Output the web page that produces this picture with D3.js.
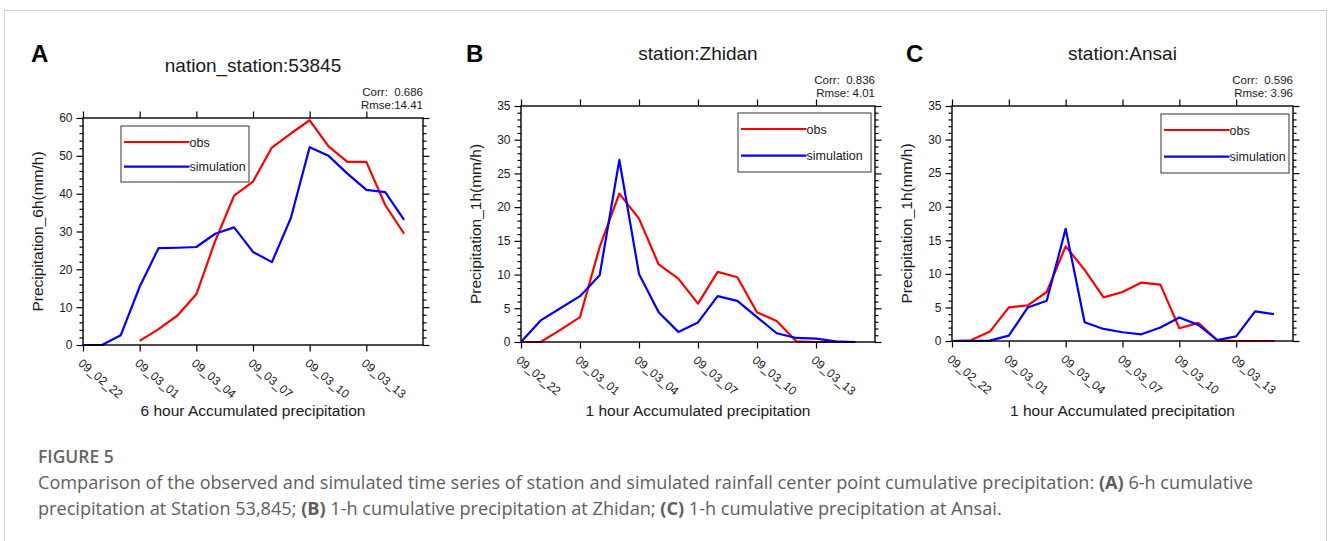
<!DOCTYPE html>
<html>
<head>
<meta charset="utf-8">
<script src="https://cdn.jsdelivr.net/npm/d3@7"></script>
<style>
  body { margin: 0; background: #fff; }
  svg text { font-family: "Liberation Sans", Arial, Helvetica, sans-serif; fill: #1a1a1a; }
  svg text.cap { font-family: "Open Sans", "Noto Sans", sans-serif; fill: #5e5e5e; }
  .pre { white-space: pre; }
</style>
</head>
<body>
<svg id="fig" width="1328" height="541"></svg>
<script>
// hours from 09_02_22, one value per hour
var tickHours = [0, 3, 6, 9, 12, 15];
var tickLabels = ["09_02_22", "09_03_01", "09_03_04", "09_03_07", "09_03_10", "09_03_13"];
var seriesNames = ["obs", "simulation"];

// panel A : 6h accumulated, station 53845
var obsA = [null, null, null, 1.1, 4.2, 7.8, 13.4, 27.5, 39.5, 43.2, 52.2, 55.9, 59.4, 52.5, 48.4, 48.4, 37, 29.4];
var simA = [0, 0, 2.6, 15.4, 25.6, 25.7, 25.9, 29.4, 31.1, 24.6, 21.9, 33.5, 52.3, 50, 45.3, 41, 40.4, 33.1];
// panel B : 1h accumulated, Zhidan
var obsB = [0, 0, 1.8, 3.7, 14.1, 22, 18.3, 11.5, 9.4, 5.7, 10.4, 9.6, 4.4, 3.1, 0.1, 0, 0, 0];
var simB = [0, 3.2, 5.0, 6.8, 9.9, 27, 10.1, 4.4, 1.5, 2.9, 6.8, 6.1, 3.7, 1.3, 0.6, 0.5, 0.1, 0];
// panel C : 1h accumulated, Ansai
var obsC = [0, 0.1, 1.4, 5.0, 5.3, 7.3, 14.1, 10.6, 6.5, 7.3, 8.7, 8.4, 1.9, 2.7, 0.1, 0, 0, 0];
var simC = [0, 0, 0.05, 0.8, 5.0, 6.0, 16.7, 2.8, 1.8, 1.3, 1.0, 2.0, 3.5, 2.4, 0.15, 0.7, 4.4, 4.0];

var panels = [
  {letter: "A", title: "nation_station:53845", corr: "Corr:  0.686", rmse: "Rmse:14.41",
   ylab: "Precipitation_6h(mm/h)", xlab: "6 hour Accumulated precipitation",
   obs: obsA, sim: simA, yMax: 60, yStep: 10, yMinor: 2,
   left: 83, right: 423, top: 118, bottom: 345, letterX: 31,
   legend: {x: 121, y: 126, w: 128, h: 56}},
  {letter: "B", title: "station:Zhidan", corr: "Corr:  0.836", rmse: "Rmse: 4.01",
   ylab: "Precipitation_1h(mm/h)", xlab: "1 hour Accumulated precipitation",
   obs: obsB, sim: simB, yMax: 35, yStep: 5, yMinor: 1,
   left: 521, right: 875, top: 106, bottom: 342, letterX: 466,
   legend: {x: 738, y: 113, w: 133, h: 59}},
  {letter: "C", title: "station:Ansai", corr: "Corr:  0.596", rmse: "Rmse: 3.96",
   ylab: "Precipitation_1h(mm/h)", xlab: "1 hour Accumulated precipitation",
   obs: obsC, sim: simC, yMax: 35, yStep: 5, yMinor: 1,
   left: 952, right: 1293, top: 106, bottom: 341, letterX: 906,
   legend: {x: 1161, y: 114, w: 128, h: 59}}
];

var colors = {obs: "#ff0000", simulation: "#0000ff"};

var svg = d3.select("#fig");

// outer frame of the figure
svg.append("rect")
  .attr("x", 4.5).attr("y", 10.5)
  .attr("width", 1322).attr("height", 600)
  .attr("fill", "none").attr("stroke", "#cfcfcf").attr("stroke-width", 1);

function drawPanel(p) {
  var g = svg.append("g");
  var x = d3.scaleLinear().domain([0, 18]).range([p.left, p.right]);
  var y = d3.scaleLinear().domain([0, p.yMax]).range([p.bottom, p.top]);
  var majors = d3.range(0, p.yMax + 0.001, p.yStep);
  var minors = d3.range(0, p.yMax + 0.001, p.yMinor).filter(function(v) { return v % p.yStep != 0; });

  // minor y ticks, left and right
  g.append("g").attr("transform", "translate(" + p.left + ",0)")
    .call(d3.axisLeft(y).tickValues(minors).tickSize(3.5).tickSizeOuter(0).tickFormat(""));
  g.append("g").attr("transform", "translate(" + p.right + ",0)")
    .call(d3.axisRight(y).tickValues(minors).tickSize(3.5).tickSizeOuter(0).tickFormat(""));

  // major y ticks
  var yl = g.append("g").attr("class", "yaxis").attr("transform", "translate(" + p.left + ",0)")
    .call(d3.axisLeft(y).tickValues(majors).tickSize(6.5).tickSizeOuter(0).tickPadding(4));
  yl.selectAll("text").style("font-size", "12px");
  g.append("g").attr("transform", "translate(" + p.right + ",0)")
    .call(d3.axisRight(y).tickValues(majors).tickSize(6.5).tickSizeOuter(0).tickFormat(""));

  // x ticks, top and bottom
  g.append("g").attr("transform", "translate(0," + p.top + ")")
    .call(d3.axisTop(x).tickValues(tickHours).tickSize(6.5).tickSizeOuter(0).tickFormat(""));
  var xl = g.append("g").attr("transform", "translate(0," + p.bottom + ")")
    .call(d3.axisBottom(x).tickValues(tickHours).tickSize(6.5).tickSizeOuter(0)
      .tickFormat(function(d, i) { return tickLabels[i]; }));
  xl.selectAll("text")
    .attr("x", 0).attr("y", 0).attr("dy", 0)
    .attr("text-anchor", "start")
    .attr("transform", "translate(-6,19.5) rotate(40)")
    .style("font-size", "12px");

  g.selectAll(".domain").remove();
  g.selectAll(".tick line").attr("stroke", "#000").attr("stroke-width", 1.2);

  // data lines
  var line = d3.line()
    .defined(function(d) { return d != null; })
    .x(function(d, i) { return x(i); })
    .y(function(d) { return y(d); });

  var clipId = "clip" + p.letter;
  g.append("clipPath").attr("id", clipId).append("rect")
    .attr("x", p.left).attr("y", p.top - 2)
    .attr("width", p.right - p.left).attr("height", p.bottom - p.top + 4);

  [["obs", p.obs], ["simulation", p.sim]].forEach(function(s) {
    g.append("path")
      .datum(s[1])
      .attr("clip-path", "url(#" + clipId + ")")
      .attr("fill", "none")
      .attr("stroke", colors[s[0]])
      .attr("stroke-width", 2.2)
      .attr("stroke-linejoin", "round")
      .attr("d", line);
  });

  // frame
  g.append("rect")
    .attr("x", p.left).attr("y", p.top)
    .attr("width", p.right - p.left).attr("height", p.bottom - p.top)
    .attr("fill", "none").attr("stroke", "#000").attr("stroke-width", 1.4);

  // legend
  var lg = g.append("g");
  lg.append("rect")
    .attr("x", p.legend.x).attr("y", p.legend.y)
    .attr("width", p.legend.w).attr("height", p.legend.h)
    .attr("fill", "#fff").attr("stroke", "#333").attr("stroke-width", 1);
  seriesNames.forEach(function(name, i) {
    var ly = i == 0 ? p.legend.y + 16 : p.legend.y + p.legend.h * 0.724;
    lg.append("line")
      .attr("x1", p.legend.x + 3).attr("x2", p.legend.x + 68.5)
      .attr("y1", ly).attr("y2", ly)
      .attr("stroke", colors[name]).attr("stroke-width", 2.2);
    lg.append("text")
      .attr("x", p.legend.x + 68.5).attr("y", ly + 4.5)
      .style("font-size", "12.5px")
      .text(name);
  });

  // titles and labels
  g.append("text")
    .attr("x", (p.left + p.right) / 2).attr("y", p.top - 46.5)
    .attr("text-anchor", "middle").style("font-size", "19px")
    .text(p.title);
  g.append("text").attr("class", "pre")
    .attr("x", p.right).attr("y", p.top - 22)
    .attr("text-anchor", "end").style("font-size", "11.5px")
    .text(p.corr);
  g.append("text").attr("class", "pre")
    .attr("x", p.right).attr("y", p.top - 9)
    .attr("text-anchor", "end").style("font-size", "11.5px")
    .text(p.rmse);
  g.append("text")
    .attr("x", (p.left + p.right) / 2).attr("y", 416)
    .attr("text-anchor", "middle").style("font-size", "15.5px")
    .text(p.xlab);
  g.append("text")
    .attr("transform", "translate(" + (p.left - 45) + "," + ((p.top + p.bottom) / 2) + ") rotate(-90)")
    .attr("dy", "0.35em")
    .attr("text-anchor", "middle").style("font-size", "15.5px")
    .text(p.ylab);
  g.append("text")
    .attr("x", p.letterX).attr("y", 62)
    .style("font-size", "24px").style("font-weight", "bold").style("fill", "#000")
    .text(p.letter);
}

panels.forEach(drawPanel);

// caption
var capLines = [
  [["Comparison of the observed and simulated time series of station and simulated rainfall center point cumulative precipitation: ", false],
   ["(A)", true], [" 6-h cumulative", false]],
  [["precipitation at Station 53,845; ", false], ["(B)", true], [" 1-h cumulative precipitation at Zhidan; ", false],
   ["(C)", true], [" 1-h cumulative precipitation at Ansai.", false]]
];

svg.append("text").attr("class", "cap")
  .attr("x", 38).attr("y", 463)
  .style("font-size", "17.5px").style("font-weight", "600").style("fill", "#666")
  .text("FIGURE 5");

var capTexts = capLines.map(function(parts, li) {
  var t = svg.append("text").attr("class", "cap pre")
    .attr("x", 38).attr("y", 489 + li * 26)
    .style("font-size", "16px");
  parts.forEach(function(pt) {
    t.append("tspan").style("font-weight", pt[1] ? "bold" : "normal").text(pt[0]);
  });
  return t;
});

// first caption line runs to about x = 1253 in the figure
var w0 = capTexts[0].node().getComputedTextLength();
var capSize = 16 * (1215 / w0);
capTexts.forEach(function(t) { t.style("font-size", capSize + "px"); });
</script>
</body>
</html>
